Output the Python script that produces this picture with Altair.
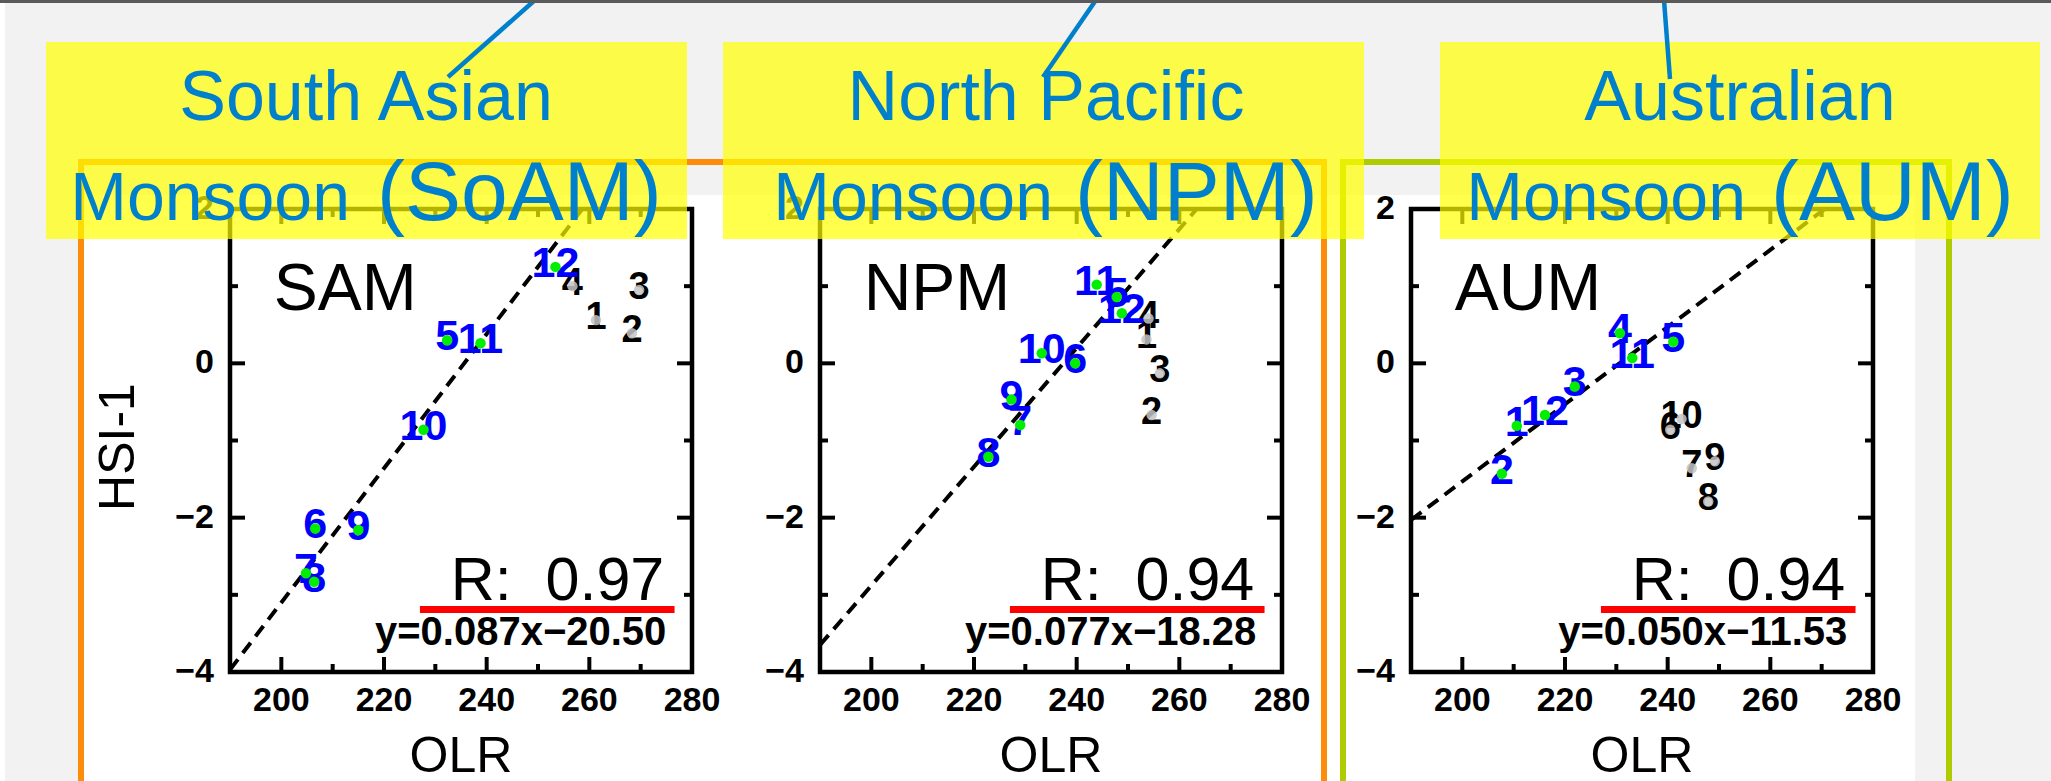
import altair as alt
import pandas as pd

W, H = 2051, 781
FONT = "Liberation Sans"

# ---------------- data ----------------
MONTHS = list(range(1, 13))

SAM_OLR = [261.3, 268.3, 269.7, 256.7, 232.3, 206.6, 204.8, 206.4, 215.0, 227.7, 238.8, 253.4]
SAM_HSI = [0.56, 0.39, 0.95, 1.00, 0.30, -2.14, -2.72, -2.83, -2.16, -0.86, 0.26, 1.25]
SAM_USED = [0, 0, 0, 0, 1, 1, 1, 1, 1, 1, 1, 1]

NPM_OLR = [253.6, 254.6, 256.2, 254.0, 247.8, 239.7, 229.0, 222.8, 227.3, 233.2, 243.9, 248.8]
NPM_HSI = [0.31, -0.67, -0.13, 0.58, 0.86, 0.00, -0.80, -1.21, -0.47, 0.13, 1.02, 0.65]
NPM_USED = [0, 0, 0, 0, 1, 1, 1, 1, 1, 1, 1, 1]

AUM_OLR = [210.6, 207.7, 221.9, 230.7, 241.1, 240.5, 244.7, 247.9, 249.2, 242.7, 233.1, 216.1]
AUM_HSI = [-0.81, -1.43, -0.30, 0.39, 0.28, -0.86, -1.36, -1.79, -1.27, -0.72, 0.07, -0.67]
AUM_USED = [1, 1, 1, 1, 1, 0, 0, 0, 0, 0, 1, 1]

PANEL_NAMES = ["SAM", "NPM", "AUM"]
R_VALUES = ["0.97", "0.94", "0.94"]
SLOPES = [0.087, 0.077, 0.050]
INTERCEPTS = [-20.50, -18.28, -11.53]

X_DOMAIN = [190, 280]
Y_DOMAIN = [-4, 2]
X_LABELS = [200, 220, 240, 260, 280]
X_MAJOR = [200, 220, 240, 260]
X_MINOR = [210, 230, 250, 270]
Y_LABELS = [2, 0, -2, -4]
Y_MAJOR = [0, -2]
Y_MINOR = [1, -1, -3]

BOX_LINE1 = ["South Asian", "North Pacific", "Australian"]
BOX_LINE2A = ["Monsoon", "Monsoon", "Monsoon"]
BOX_LINE2B = ["(SoAM)", "(NPM)", "(AUM)"]

# ---------------- layout ----------------
PANEL_LEFT = [230, 820, 1411]
PANEL_W = 462
PANEL_BOTTOM, PANEL_TOP = 672, 209
MAJOR_LEN, MINOR_LEN = 15, 8

BLUE_TXT = "#0080cc"


def minus(v):
    return str(v).replace("-", "\u2212")


def fmt_eq(a, b):
    sign = "\u2212" if b < 0 else "+"
    return f"y={a:.3f}x{sign}{abs(b):.2f}"


def panel(i, olr, hsi, used):
    x0 = PANEL_LEFT[i]
    xs = alt.Scale(domain=X_DOMAIN, range=[x0, x0 + PANEL_W], nice=False, zero=False)
    ys = alt.Scale(domain=Y_DOMAIN, range=[PANEL_BOTTOM, PANEL_TOP], nice=False, zero=False)
    px_x = PANEL_W / (X_DOMAIN[1] - X_DOMAIN[0])
    px_y = (PANEL_BOTTOM - PANEL_TOP) / (Y_DOMAIN[1] - Y_DOMAIN[0])

    def X(f="x"):
        return alt.X(f"{f}:Q", scale=xs, axis=None)

    def Y(f="y"):
        return alt.Y(f"{f}:Q", scale=ys, axis=None)

    frame = alt.Chart(pd.DataFrame({"x": [X_DOMAIN[0]], "x2": [X_DOMAIN[1]],
                                    "y": [Y_DOMAIN[0]], "y2": [Y_DOMAIN[1]]})).mark_rect(
        fillOpacity=0, stroke="black", strokeWidth=4.5).encode(x=X(), x2="x2:Q", y=Y(), y2="y2:Q")

    rows = []
    for vals, L in ((X_MAJOR, MAJOR_LEN), (X_MINOR, MINOR_LEN)):
        for v in vals:
            rows.append({"x": v, "x2": v, "y": Y_DOMAIN[0], "y2": Y_DOMAIN[0] + L / px_y})
            rows.append({"x": v, "x2": v, "y": Y_DOMAIN[1], "y2": Y_DOMAIN[1] - L / px_y})
    for vals, L in ((Y_MAJOR, MAJOR_LEN), (Y_MINOR, MINOR_LEN)):
        for v in vals:
            rows.append({"x": X_DOMAIN[0], "x2": X_DOMAIN[0] + L / px_x, "y": v, "y2": v})
            rows.append({"x": X_DOMAIN[1], "x2": X_DOMAIN[1] - L / px_x, "y": v, "y2": v})
    ticks = alt.Chart(pd.DataFrame(rows)).mark_rule(color="black", strokeWidth=4).encode(
        x=X(), x2="x2:Q", y=Y(), y2="y2:Q")

    xlab = alt.Chart(pd.DataFrame({"x": X_LABELS, "y": [Y_DOMAIN[0]] * len(X_LABELS),
                                   "t": [str(v) for v in X_LABELS]})).mark_text(
        font=FONT, fontSize=34, fontWeight="bold", align="center", baseline="middle", dy=29,
        color="black").encode(x=X(), y=Y(), text="t:N")
    ylab = alt.Chart(pd.DataFrame({"x": [X_DOMAIN[0]] * len(Y_LABELS), "y": Y_LABELS,
                                   "t": [minus(v) for v in Y_LABELS]})).mark_text(
        font=FONT, fontSize=34, fontWeight="bold", align="right", baseline="middle", dx=-16,
        color="black").encode(x=X(), y=Y(), text="t:N")

    a, b = SLOPES[i], INTERCEPTS[i]
    xa = max(X_DOMAIN[0], (Y_DOMAIN[0] - b) / a)
    xb = min(X_DOMAIN[1], (Y_DOMAIN[1] - b) / a)
    reg = alt.Chart(pd.DataFrame({"x": [xa, xb], "y": [a * xa + b, a * xb + b]})).mark_line(
        color="black", strokeWidth=4, strokeDash=[13, 8]).encode(x=X(), y=Y())

    pts = pd.DataFrame({"x": olr, "y": hsi, "t": [str(m) for m in MONTHS], "u": used})
    out_pts = pts[pts.u == 0]
    in_pts = pts[pts.u == 1]
    black_lab = alt.Chart(out_pts).mark_text(
        font=FONT, fontSize=38, fontWeight="bold", color="black", align="center",
        baseline="middle", dy=-2).encode(x=X(), y=Y(), text="t:N")
    blue_lab = alt.Chart(in_pts).mark_text(
        font=FONT, fontSize=43, fontWeight="bold", color="#0000ff", align="center",
        baseline="middle", dy=-3).encode(x=X(), y=Y(), text="t:N")
    grey_dots = alt.Chart(out_pts).mark_circle(size=110, color="#c4c4c4", opacity=0.85).encode(
        x=X(), y=Y())
    green_dots = alt.Chart(in_pts).mark_circle(size=110, color="#00ee00", opacity=1).encode(
        x=X(), y=Y())

    name = alt.Chart(pd.DataFrame({"x": [198.5], "y": [0.69], "t": [PANEL_NAMES[i]]})).mark_text(
        font=FONT, fontSize=66, align="left", baseline="alphabetic", color="black").encode(
        x=X(), y=Y(), text="t:N")
    rtxt = alt.Chart(pd.DataFrame({"x": [274.6], "y": [-3.07],
                                   "t": ["R:\u00a0\u00a0" + R_VALUES[i]]})).mark_text(
        font=FONT, fontSize=61, align="right", baseline="alphabetic", color="black").encode(
        x=X(), y=Y(), text="t:N")
    red = alt.Chart(pd.DataFrame({"x": [227.0], "x2": [276.6], "y": [-3.19]})).mark_rule(
        color="#ff0000", strokeWidth=7).encode(x=X(), x2="x2:Q", y=Y())
    eq = alt.Chart(pd.DataFrame({"x": [275.0], "y": [-3.65], "t": [fmt_eq(a, b)]})).mark_text(
        font=FONT, fontSize=40, fontWeight="bold", align="right", baseline="alphabetic",
        color="black").encode(x=X(), y=Y(), text="t:N")
    olr_t = alt.Chart(pd.DataFrame({"x": [235.0], "y": [Y_DOMAIN[0]], "t": ["OLR"]})).mark_text(
        font=FONT, fontSize=50, align="center", baseline="middle", dy=85, color="black").encode(
        x=X(), y=Y(), text="t:N")

    return alt.layer(frame, ticks, xlab, ylab, reg, black_lab, blue_lab, grey_dots,
                     green_dots, name, rtxt, red, eq, olr_t)


# ---------------- pixel-space decorations ----------------
def PX(f="x"):
    return alt.X(f"{f}:Q", scale=None, axis=None)


def PY(f="y"):
    return alt.Y(f"{f}:Q", scale=None, axis=None)


bg = alt.Chart(pd.DataFrame({"x": [0, 81], "x2": [5, 1915], "y": [0, 195], "y2": [H, H],
                             "c": ["#ffffff", "#ffffff"]})).mark_rect().encode(
    x=PX(), x2="x2:Q", y=PY(), y2="y2:Q", color=alt.Color("c:N", scale=None))

ytitle = alt.Chart(pd.DataFrame({"x": [119], "y": [447], "t": ["HSI-1"]})).mark_text(
    font=FONT, fontSize=50, angle=270, align="center", baseline="middle", color="black").encode(
    x=PX(), y=PY(), text="t:N")

frame_rules = pd.DataFrame({
    "x":  [81, 81, 1324, 1343, 1343, 1949],
    "x2": [1324, 81, 1324, 1949, 1343, 1949],
    "y":  [162, 162, 162, 162, 162, 162],
    "y2": [162, H + 5, H + 5, 162, H + 5, H + 5],
    "c":  ["#fb8c0c"] * 3 + ["#afcc00"] * 3,
})
frames = alt.Chart(frame_rules).mark_rule(strokeWidth=6, strokeCap="square").encode(
    x=PX(), x2="x2:Q", y=PY(), y2="y2:Q", color=alt.Color("c:N", scale=None))

yellow = alt.Chart(pd.DataFrame({"x": [46, 723, 1440], "x2": [687, 1364, 2040],
                                 "y": [42, 42, 42], "y2": [239, 239, 239]})).mark_rect(
    color="#ffff00", opacity=0.7).encode(x=PX(), x2="x2:Q", y=PY(), y2="y2:Q")

line1 = alt.Chart(pd.DataFrame({"x": [366, 1046, 1740], "y": [120, 120, 120],
                                "t": BOX_LINE1})).mark_text(
    font=FONT, fontSize=70, align="center", baseline="alphabetic", color=BLUE_TXT).encode(
    x=PX(), y=PY(), text="t:N")
line2a = alt.Chart(pd.DataFrame({"x": [350, 1053, 1746], "y": [220, 220, 220],
                                 "t": BOX_LINE2A})).mark_text(
    font=FONT, fontSize=68, align="right", baseline="alphabetic", color=BLUE_TXT).encode(
    x=PX(), y=PY(), text="t:N")
line2b = alt.Chart(pd.DataFrame({"x": [377, 1075, 1771], "y": [220, 220, 220],
                                 "t": BOX_LINE2B})).mark_text(
    font=FONT, fontSize=84, align="left", baseline="alphabetic", color=BLUE_TXT).encode(
    x=PX(), y=PY(), text="t:N")

leaders = alt.Chart(pd.DataFrame({"x": [535, 1096, 1664], "x2": [448, 1043, 1670],
                                  "y": [0, 0, 0], "y2": [77, 77, 79]})).mark_rule(
    color=BLUE_TXT, strokeWidth=4.5).encode(x=PX(), x2="x2:Q", y=PY(), y2="y2:Q")

topbar = alt.Chart(pd.DataFrame({"x": [0], "x2": [W], "y": [0], "y2": [3]})).mark_rect(
    color="#5a5a5a").encode(x=PX(), x2="x2:Q", y=PY(), y2="y2:Q")

p1 = panel(0, SAM_OLR, SAM_HSI, SAM_USED)
p2 = panel(1, NPM_OLR, NPM_HSI, NPM_USED)
p3 = panel(2, AUM_OLR, AUM_HSI, AUM_USED)

chart = alt.layer(
    bg, p1, p2, p3, ytitle, frames, yellow, line1, line2a, line2b, leaders, topbar
).resolve_scale(
    x="independent", y="independent"
).properties(
    width=W, height=H, background="#f2f2f2", padding=0,
    autosize=alt.AutoSizeParams(type="none")
).configure_view(stroke=None)

chart.save("out.html", embed_options={"renderer": "svg", "actions": False})
